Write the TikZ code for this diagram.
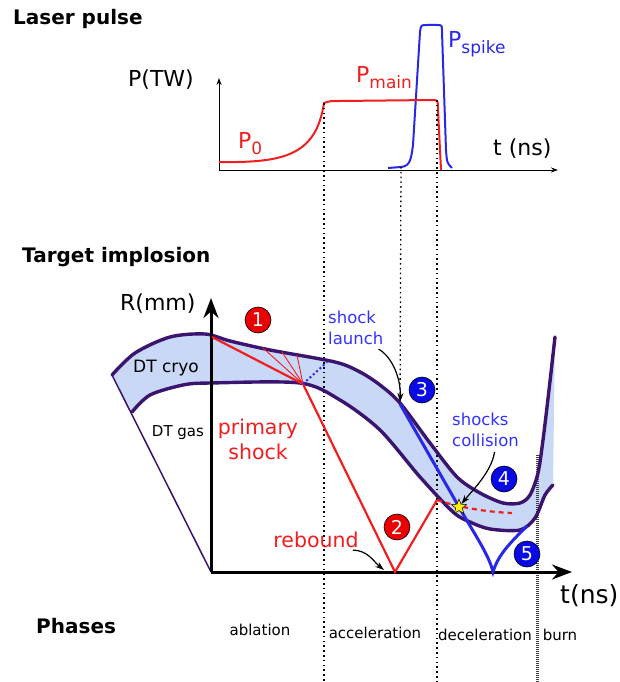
\documentclass[tikz,border=0pt]{standalone}
\usepackage{fontspec}
\setmainfont{DejaVu Sans}
\usetikzlibrary{arrows.meta,shapes.geometric,positioning}
\definecolor{shellc}{RGB}{58,20,110}
\definecolor{shellfill}{RGB}{200,216,246}
\definecolor{shockred}{RGB}{240,30,30}
\definecolor{shockblue}{RGB}{40,40,230}
\definecolor{noteblue}{RGB}{50,50,250}
\definecolor{circred}{RGB}{235,0,0}
\definecolor{circblue}{RGB}{10,10,230}
\newcommand{\psub}[1]{\raisebox{-6pt}{\fontsize{17}{17}\selectfont #1}}

\begin{document}
\begin{tikzpicture}[x=1pt, y=-1pt,
    heading/.style={anchor=base west, inner sep=0, font=\fontsize{20}{24}\selectfont\bfseries},
    axlbl/.style={anchor=base west, inner sep=0, font=\fontsize{22}{26}\selectfont},
    phase/.style={inner sep=0, font=\fontsize{15}{18}\selectfont},
    guide/.style={line width=1.3, dash pattern=on 1.6pt off 3.2pt},
    shellline/.style={draw=shellc, line width=3.4, line cap=round},
    num/.style={circle, draw=black, line width=0.6, minimum size=26, inner sep=0, text=white, font=\fontsize{19}{19}\selectfont},
    note/.style={align=left, inner sep=0, text=noteblue, font=\fontsize{16.5}{21}\selectfont},
    pointer/.style={-{Stealth[length=9,width=6]}, line width=1.2}
]
\useasboundingbox (0,0) rectangle (619,682);

% laser pulse
\node[heading] (pulsetitle) at (13,25) {Laser pulse};
\coordinate (porig) at (219,170);
\coordinate (pend) at (558,170);
\coordinate (ptop) at (219,78);
\draw[-{Stealth[length=7,width=5]}, line width=0.9] (porig) -- (pend);
\draw[-{Stealth[length=7,width=5]}, line width=0.9] (porig) -- (ptop);
\node[axlbl] (plabel) at (128,87) {P(TW)};
\node[axlbl] (tlabel) at (493,155) {t (ns)};

\coordinate (mainon) at (324,103);
\coordinate (mainoff) at (437,100);
\coordinate (spikeon) at (401,167);

\draw[shockblue, line width=2] (388,168) -- (spikeon) .. controls (410,166) and (411,160) .. (413,145)
    -- (420,32) .. controls (421,25) .. (427,25) -- (437,25) .. controls (442,25) .. (442,32)
    -- (446,150) .. controls (447,163) .. (452,168);
\draw[shockred, line width=2] (219,162) .. controls (285,163) and (316,155) .. (mainon)
    .. controls (330,101) .. (340,101) -- (432,100) .. controls (438,100) .. (438,110) -- (441,170);

\node[axlbl, text=shockred] (p0lbl) at (238,148) {P\psub{0}};
\node[axlbl, text=shockred] (pmainlbl) at (356,83) {P\psub{main}};
\node[axlbl, text=shockblue] (pspikelbl) at (448,48) {P\psub{spike}};

% target implosion
\node[heading] (implosiontitle) at (22,262) {Target implosion};
\coordinate (rorig) at (211,572);
\coordinate (rtop) at (211,298);
\coordinate (tend) at (572,572);
\coordinate (conetip) at (112,375);

\fill[shellfill] plot[smooth] coordinates {(112,375) (135,353) (170,337) (205,334) (230,341) (270,350)
    (335,362) (360,372) (380,385) (400,403) (430,443) (457,477) (480,493) (503,503) (520,503)
    (530,495) (538,473) (543,440) (549,390) (555,337)}
  -- plot[smooth] coordinates {(553,485) (545,495) (535,518) (520,530) (490,529) (470,522) (453,512)
    (420,477) (380,430) (340,400) (300,383) (210,383) (183,385) (150,395) (132,412)} -- cycle;

\draw[guide] (mainon) -- (324,682);
\coordinate (launchpt) at (400,404);
\draw[guide] (spikeon) -- (launchpt);
\draw[guide] (mainoff) -- (437,682);
\draw[line width=3, dash pattern=on 1pt off 1pt, black!75] (537,455) -- (537,682);

\draw[shellline] plot[smooth] coordinates {(112,375) (135,353) (170,337) (205,334) (230,341) (270,350)
    (335,362) (360,372) (380,385) (400,403) (430,443) (457,477) (480,493) (503,503) (520,503)
    (530,495) (538,473) (543,440) (549,390) (555,337)};
\draw[shellline] plot[smooth] coordinates {(132,412) (150,395) (183,385) (210,383) (300,383) (340,400)
    (380,430) (420,477) (453,512) (470,522) (490,529) (520,530) (535,518) (545,495) (553,485)};
\draw[shellc, line width=1.5] (conetip) -- (rorig);

\draw[line width=3, -{Stealth[length=20,width=15]}] (rorig) -- (rtop);
\draw[line width=3, -{Stealth[length=20,width=15]}] (rorig) -- (tend);
\node[axlbl] (rlabel) at (120,310) {R(mm)};
\node[axlbl, font=\fontsize{25}{28}\selectfont] (tnslabel) at (560,603) {t(ns)};

% shocks
\coordinate (shock0) at (212,337);
\coordinate (conv) at (303,384);
\coordinate (bounce) at (395,572);
\coordinate (peak) at (437,500);
\coordinate (starpt) at (459,507);
\coordinate (center2) at (493,572);
\draw[shockred, line width=0.9] (conv) -- (263,348) (conv) -- (282,352) (conv) -- (297,355);
\draw[shockred, line width=2.2] (shock0) -- (conv) -- (bounce) -- (peak);
\draw[shockblue, line width=2, dash pattern=on 2pt off 2.5pt] (conv) -- (327,362);
\draw[shockred, line width=2.2, dash pattern=on 5pt off 4pt] (peak) .. controls (465,509) and (490,512) .. (512,513);
\draw[shockblue, line width=3] (launchpt) -- (starpt) .. controls (475,535) and (489,555) .. (center2)
    .. controls (498,555) and (510,543) .. (527,526);

\node[star, star points=5, star point ratio=2.3, fill=yellow, draw=black, line width=0.5,
    minimum size=16, inner sep=0] (collision) at (starpt) {};

\node[num, fill=circred] (n1) at (258,320) {1};
\node[num, fill=circred] (n2) at (397,527) {2};
\node[num, fill=circblue] (n3) at (422,390) {3};
\node[num, fill=circblue] (n4) at (504,479) {4};
\node[num, fill=circblue] (n5) at (527,554) {5};

\node[font=\fontsize{17}{20}\selectfont] (cryolbl) at (166,368) {DT cryo};
\node[font=\fontsize{15}{18}\selectfont] (gaslbl) at (178,433) {DT gas};
\node[align=center, text=shockred, font=\fontsize{20.5}{25}\selectfont] (primlbl) at (258,439) {primary\\shock};
\node[text=shockred, inner sep=0, font=\fontsize{20.5}{25}\selectfont] (reboundlbl) at (316,540) {rebound};
\node[note, anchor=west] (launchlbl) at (328,328) {shock\\launch};
\node[note, anchor=west] (collisionlbl) at (452,430) {shocks\\collision};

\coordinate (reboundpt) at (384,570);
\draw[pointer, shorten >=2] ([xshift=-5pt,yshift=-4pt]launchlbl.south east) .. controls +(14,8) and +(1,-25) .. (launchpt);
\draw[pointer] ([xshift=9pt,yshift=-5pt]collisionlbl.south) .. controls +(-3,20) and +(12,-15) .. (collision);
\draw[pointer] ([xshift=-6pt,yshift=-2pt]reboundlbl.south east) .. controls +(15,0) and +(-10,-8) .. (reboundpt);

% phases
\node[heading] (phasetitle) at (36,633) {Phases};
\node[phase] (ablation) at (260,630) {ablation};
\node[phase] (acceleration) at (375,633) {acceleration};
\node[phase] (deceleration) at (485,635) {deceleration};
\node[phase] (burn) at (560,635) {burn};
\end{tikzpicture}
\end{document}
